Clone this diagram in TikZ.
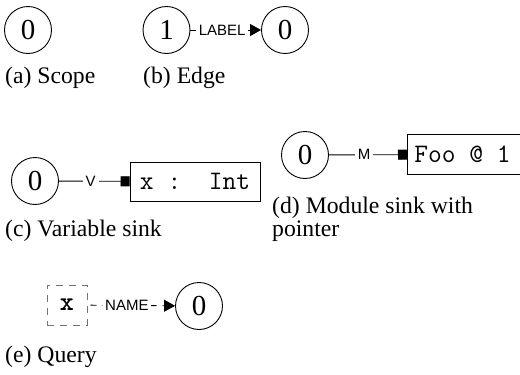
\documentclass[tikz,border=0pt]{standalone}
\usepackage{fontspec}
\setmainfont{Liberation Serif}
\newfontfamily\lblfont{Liberation Sans}
\usetikzlibrary{arrows.meta}
\begin{document}
\begin{tikzpicture}[x=1pt,y=-1pt,
  scopenode/.style={circle, draw, line width=0.9pt, minimum size=47pt, inner sep=0pt,
    font=\fontsize{29}{29}\selectfont},
  sinkbox/.style={draw, line width=0.9pt, minimum height=39pt, inner sep=0pt,
    font=\ttfamily\fontsize{26.7}{26.7}\selectfont},
  edgelbl/.style={fill=white, inner ysep=1pt, inner xsep=2.5pt, pos=0.45,
    font=\lblfont\fontsize{15}{15}\selectfont},
  caption/.style={anchor=base west, inner sep=0pt, align=left,
    font=\fontsize{23.7}{23}\selectfont},
  conn/.style={line width=0.9pt},
  tri/.style={-{Triangle[length=11pt,width=12pt]}},
  sq/.style={-{Square[length=9pt,width=10pt]}},
  querybox/.style={draw=black!55, dash pattern=on 7pt off 6pt, dash phase=0pt,
    line width=1pt, minimum size=40pt, inner sep=0pt,
    font=\ttfamily\bfseries\fontsize{26.7}{26.7}\selectfont},
]
\useasboundingbox (0,0) rectangle (520,375);

% (a) Scope
\node[scopenode] (a0) at (28,30) {0};
\node[caption] (capa) at (5,83) {(a) Scope};

% (b) Edge
\node[scopenode] (b1) at (166.5,30) {1};
\node[scopenode] (b0) at (285,30) {0};
\draw[conn,tri] (b1) -- node[edgelbl] (blbl) {LABEL} (b0);
\node[caption] (capb) at (143,83) {(b) Edge};

% (c) Variable sink
\node[scopenode] (c0) at (35,181) {0};
\node[sinkbox, minimum width=130pt] (cbox) at (195,181.5) {x :\ \ Int};
\draw[conn,sq] (c0) -- node[edgelbl, inner xsep=3pt] (clbl) {V} (cbox);
\node[caption] (capc) at (5,236) {(c) Variable sink};

% (d) Module sink with pointer
\node[scopenode] (d0) at (305,155) {0};
\node[sinkbox, anchor=west, inner xsep=7pt, minimum height=40pt] (dbox) at (407,154.5)
  {\makebox[104pt][l]{Foo\ @\ 1}};
\draw[conn,sq] (d0) -- node[edgelbl, inner xsep=3pt] (dlbl) {M} (dbox);
\node[caption] (capd) at (272,236) {(d) Module sink with\\pointer};

% (e) Query
\node[querybox] (ebox) at (67,305) {x};
\node[scopenode] (e0) at (199,306) {0};
\draw[conn,tri, dash pattern=on 6pt off 6pt, dash phase=9pt] (ebox) --
  node[edgelbl, inner xsep=2pt] (elbl) {NAME} (e0);
\node[caption] (cape) at (5,362) {(e) Query};
\end{tikzpicture}
\end{document}
